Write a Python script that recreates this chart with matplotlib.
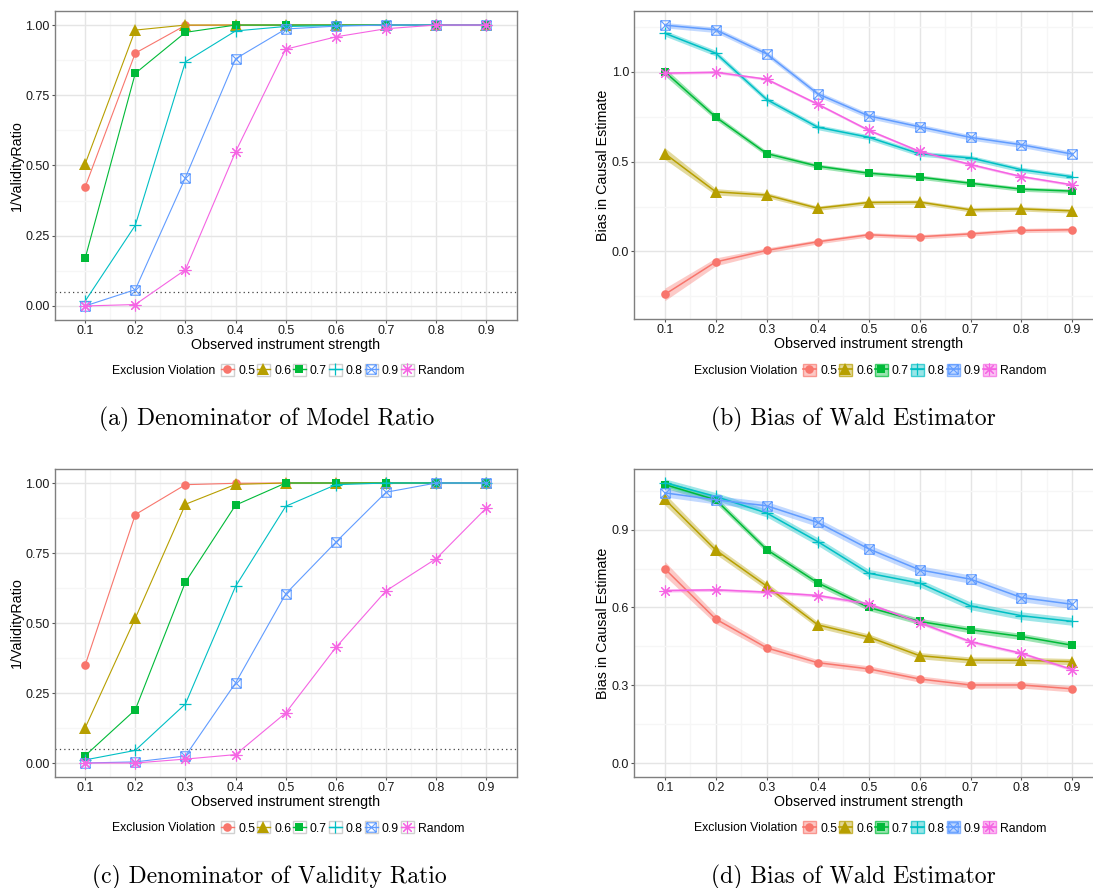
import numpy as np
import matplotlib
matplotlib.use("Agg")
import matplotlib.pyplot as plt
from matplotlib.path import Path
from matplotlib.lines import Line2D
from matplotlib.patches import Rectangle
from matplotlib.ticker import FixedLocator

plt.rcParams['font.family'] = ['Liberation Sans', 'DejaVu Sans']

# ---------------- data ----------------
strength = [0.1, 0.2, 0.3, 0.4, 0.5, 0.6, 0.7, 0.8, 0.9]
groups = ["0.5", "0.6", "0.7", "0.8", "0.9", "Random"]
colors = ["#F8766D", "#B79F00", "#00BA38", "#00BFC4", "#619CFF", "#F564E3"]

# (a) Denominator of Model Ratio
a_05 = [0.423, 0.900, 0.999, 1.0, 1.0, 1.0, 1.0, 1.0, 1.0]
a_06 = [0.505, 0.982, 1.0, 1.0, 1.0, 1.0, 1.0, 1.0, 1.0]
a_07 = [0.169, 0.828, 0.974, 1.0, 1.0, 1.0, 1.0, 1.0, 1.0]
a_08 = [0.017, 0.287, 0.869, 0.979, 0.995, 0.998, 1.0, 1.0, 1.0]
a_09 = [0.0, 0.058, 0.457, 0.880, 0.986, 0.996, 1.0, 1.0, 1.0]
a_rnd = [0.0, 0.005, 0.129, 0.549, 0.914, 0.958, 0.987, 1.0, 1.0]

# (b) Bias of Wald Estimator (top) -- mean and ribbon half-width
b_05 = [-0.239, -0.058, 0.006, 0.054, 0.093, 0.082, 0.098, 0.117, 0.121]
b_06 = [0.545, 0.332, 0.314, 0.241, 0.273, 0.275, 0.232, 0.237, 0.226]
b_07 = [1.0, 0.748, 0.545, 0.475, 0.436, 0.414, 0.380, 0.347, 0.336]
b_08 = [1.215, 1.104, 0.846, 0.692, 0.636, 0.544, 0.521, 0.455, 0.416]
b_09 = [1.260, 1.234, 1.100, 0.878, 0.755, 0.694, 0.635, 0.594, 0.542]
b_rnd = [0.993, 0.998, 0.959, 0.820, 0.675, 0.557, 0.484, 0.417, 0.371]
b_05_hw = [0.035, 0.022, 0.014, 0.012, 0.012, 0.012, 0.012, 0.012, 0.012]
b_06_hw = [0.032, 0.018, 0.014, 0.012, 0.012, 0.012, 0.012, 0.012, 0.012]
b_07_hw = [0.022, 0.016, 0.014, 0.012, 0.012, 0.012, 0.012, 0.012, 0.012]
b_08_hw = [0.016, 0.016, 0.015, 0.014, 0.014, 0.014, 0.014, 0.014, 0.014]
b_09_hw = [0.015, 0.015, 0.015, 0.015, 0.015, 0.015, 0.015, 0.015, 0.015]
b_rnd_hw = [0.007, 0.007, 0.007, 0.007, 0.007, 0.007, 0.007, 0.007, 0.007]

# (c) Denominator of Validity Ratio
c_05 = [0.349, 0.887, 0.994, 0.999, 1.0, 1.0, 1.0, 1.0, 1.0]
c_06 = [0.125, 0.517, 0.924, 0.995, 1.0, 1.0, 1.0, 1.0, 1.0]
c_07 = [0.026, 0.190, 0.646, 0.921, 1.0, 1.0, 1.0, 1.0, 1.0]
c_08 = [0.011, 0.045, 0.211, 0.631, 0.917, 0.994, 1.0, 1.0, 1.0]
c_09 = [0.0, 0.004, 0.025, 0.286, 0.604, 0.789, 0.967, 1.0, 1.0]
c_rnd = [0.0, 0.0, 0.014, 0.030, 0.179, 0.413, 0.615, 0.730, 0.911]

# (d) Bias of Wald Estimator (bottom)
d_05 = [0.749, 0.555, 0.444, 0.387, 0.363, 0.324, 0.301, 0.301, 0.286]
d_06 = [1.017, 0.821, 0.682, 0.533, 0.486, 0.414, 0.397, 0.396, 0.391]
d_07 = [1.074, 1.015, 0.823, 0.695, 0.600, 0.546, 0.514, 0.488, 0.454]
d_08 = [1.081, 1.028, 0.964, 0.854, 0.732, 0.694, 0.606, 0.568, 0.546]
d_09 = [1.042, 1.015, 0.992, 0.928, 0.826, 0.745, 0.709, 0.638, 0.612]
d_rnd = [0.665, 0.668, 0.659, 0.646, 0.614, 0.541, 0.468, 0.423, 0.360]
d_05_hw = [0.028, 0.018, 0.014, 0.012, 0.012, 0.012, 0.012, 0.012, 0.012]
d_06_hw = [0.022, 0.016, 0.014, 0.012, 0.012, 0.012, 0.012, 0.012, 0.012]
d_07_hw = [0.014, 0.013, 0.012, 0.012, 0.012, 0.012, 0.012, 0.012, 0.012]
d_08_hw = [0.015, 0.015, 0.015, 0.015, 0.015, 0.015, 0.015, 0.015, 0.015]
d_09_hw = [0.016, 0.016, 0.016, 0.016, 0.016, 0.016, 0.016, 0.016, 0.016]
d_rnd_hw = [0.006, 0.006, 0.006, 0.006, 0.006, 0.006, 0.006, 0.006, 0.006]

threshold = 0.05
captions = ["(a) Denominator of Model Ratio", "(b) Bias of Wald Estimator",
            "(c) Denominator of Validity Ratio", "(d) Bias of Wald Estimator"]

# ---------------- markers ----------------
sqx_path = Path(
    [(-1, -1), (1, -1), (1, 1), (-1, 1), (-1, -1),
     (-1, -1), (1, 1), (-1, 1), (1, -1)],
    [Path.MOVETO, Path.LINETO, Path.LINETO, Path.LINETO, Path.CLOSEPOLY,
     Path.MOVETO, Path.LINETO, Path.MOVETO, Path.LINETO])
marker_specs = [
    dict(marker='o', ms=6.2, filled=True, mew=0.0),
    dict(marker='^', ms=8.0, filled=True, mew=0.0),
    dict(marker='s', ms=6.0, filled=True, mew=0.0),
    dict(marker='+', ms=8.5, filled=False, mew=0.9),
    dict(marker=sqx_path, ms=6.8, filled=False, mew=0.8),
    dict(marker=(8, 2, 0), ms=8.5, filled=False, mew=0.8),
]

TICK_FS = 9.0
LEG_FS = 8.8
LAB_FS = 10.3
W, H = 1093, 888
fig = plt.figure(figsize=(W / 100, H / 100), dpi=100)


def px_axes(left, top, right, bottom):
    return fig.add_axes([left / W, 1 - bottom / H, (right - left) / W, (bottom - top) / H])


def style_axes(ax, xlim, ylim, yticks, yminor, ylabels, ylabel):
    ax.set_xlim(*xlim)
    ax.set_ylim(*ylim)
    ax.set_xticks(strength)
    ax.set_xticklabels([f"{v:.1f}" for v in strength])
    ax.xaxis.set_minor_locator(FixedLocator([s + 0.05 for s in strength[:-1]]))
    ax.set_yticks(yticks)
    ax.set_yticklabels(ylabels)
    ax.yaxis.set_minor_locator(FixedLocator(yminor))
    ax.grid(True, which='major', color='#e5e5e5', lw=1.0, zorder=0)
    ax.grid(True, which='minor', color='#f6f6f6', lw=1.0, zorder=0)
    ax.set_axisbelow(True)
    for s in ax.spines.values():
        s.set_color('#7f7f7f')
        s.set_linewidth(1.0)
    ax.tick_params(which='major', length=2.5, width=0.8, color='#555555',
                   labelsize=TICK_FS, labelcolor='#1a1a1a', pad=1.2)
    ax.tick_params(which='minor', length=0)
    ax.set_xlabel("Observed instrument strength", fontsize=LAB_FS, labelpad=0.3, color='#000000')
    ax.set_ylabel(ylabel, fontsize=LAB_FS, labelpad=1.5, color='#000000')


def plot_lines(ax, series, lw):
    for y, c, m in zip(series, colors, marker_specs):
        kw = dict(color=c, lw=lw, marker=m['marker'], ms=m['ms'],
                  mew=m['mew'] if not m['filled'] else 0, mec=c, zorder=3)
        kw['mfc'] = c if m['filled'] else 'none'
        ax.plot(strength, y, **kw)


def plot_ribbons(ax, series, hws, lw):
    for y, hw, c in zip(series, hws, colors):
        yv = np.array(y)
        h = np.array(hw)
        ax.fill_between(strength, yv - h, yv + h, color=c, alpha=0.38, lw=0, zorder=2)
    plot_lines(ax, series, lw)


def add_legend(x_title, x_keys, y_center, ribbon):
    handles = []
    for c, m in zip(colors, marker_specs):
        if ribbon:
            box = Rectangle((0, 0), 1, 1, facecolor=matplotlib.colors.to_rgba(c, 0.4),
                            edgecolor=matplotlib.colors.to_rgba(c, 0.7), lw=1.0)
        else:
            box = Rectangle((0, 0), 1, 1, facecolor='white', edgecolor='#d0d0d0', lw=1.0)
        ln = Line2D([], [], color=c, lw=1.0 if not ribbon else 1.2, marker=m['marker'], ms=m['ms'],
                    mew=m['mew'] if not m['filled'] else 0, mec=c,
                    mfc=c if m['filled'] else 'none')
        handles.append((box, ln))
    fig.text(x_title / W, 1 - y_center / H, "Exclusion Violation", fontsize=LEG_FS,
             ha='left', va='center')
    fig.legend(handles, groups, loc='center left',
               bbox_to_anchor=(x_keys / W, 1 - y_center / H),
               ncol=6, frameon=False, fontsize=LEG_FS, handlelength=1.05, handleheight=1.1,
               handletextpad=0.35, columnspacing=0.15, borderpad=0, borderaxespad=0,
               numpoints=1)


# ---------------- panel a ----------------
ax_a = px_axes(55, 11, 516.5, 320)
plot_lines(ax_a, [a_05, a_06, a_07, a_08, a_09, a_rnd], 0.8)
ax_a.axhline(threshold, color='#444444', ls=(0, (1, 2.5)), lw=0.9, zorder=1)
style_axes(ax_a, (0.04, 0.96), (-0.05, 1.05), [0, 0.25, 0.5, 0.75, 1.0],
           [0.125, 0.375, 0.625, 0.875], ["0.00", "0.25", "0.50", "0.75", "1.00"], "1/ValidityRatio")

# ---------------- panel b ----------------
ax_b = px_axes(634.3, 11, 1103, 319)
plot_ribbons(ax_b, [b_05, b_06, b_07, b_08, b_09, b_rnd],
             [b_05_hw, b_06_hw, b_07_hw, b_08_hw, b_09_hw, b_rnd_hw], 1.1)
style_axes(ax_b, (0.04, 0.96), (-0.376, 1.339), [0.0, 0.5, 1.0],
           [-0.25, 0.25, 0.75, 1.25], ["0.0", "0.5", "1.0"], "Bias in Causal Estimate")

# ---------------- panel c ----------------
ax_c = px_axes(55, 469, 516.5, 777)
plot_lines(ax_c, [c_05, c_06, c_07, c_08, c_09, c_rnd], 0.8)
ax_c.axhline(threshold, color='#444444', ls=(0, (1, 2.5)), lw=0.9, zorder=1)
style_axes(ax_c, (0.04, 0.96), (-0.05, 1.05), [0, 0.25, 0.5, 0.75, 1.0],
           [0.125, 0.375, 0.625, 0.875], ["0.00", "0.25", "0.50", "0.75", "1.00"], "1/ValidityRatio")

# ---------------- panel d ----------------
ax_d = px_axes(634.3, 469, 1103, 777)
plot_ribbons(ax_d, [d_05, d_06, d_07, d_08, d_09, d_rnd],
             [d_05_hw, d_06_hw, d_07_hw, d_08_hw, d_09_hw, d_rnd_hw], 1.1)
style_axes(ax_d, (0.04, 0.96), (-0.054, 1.134), [0.0, 0.3, 0.6, 0.9],
           [0.15, 0.45, 0.75, 1.05], ["0.0", "0.3", "0.6", "0.9"], "Bias in Causal Estimate")

# ---------------- legends ----------------
add_legend(111.5, 221, 370.5, False)
add_legend(694, 803, 370.5, True)
add_legend(111.5, 221, 828, False)
add_legend(694, 803, 828, True)

# ---------------- captions ----------------
cap_pos = [(267, 419), (853, 419), (269, 877), (853, 877)]
for (cx, cy), cap in zip(cap_pos, captions):
    fig.text(cx / W, 1 - cy / H, cap, fontsize=17, family='cmr10', ha='center', va='center')

fig.savefig("out.png", dpi=100)
